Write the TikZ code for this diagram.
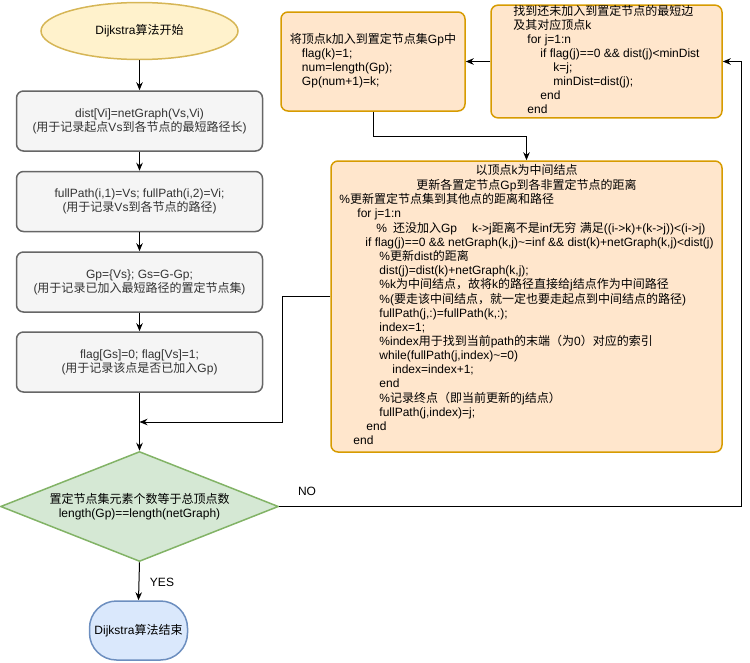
\documentclass[tikz,border=0pt]{standalone}
\usepackage{fontspec}
\setmainfont{Liberation Sans}
\newfontfamily\cjk{Noto Sans CJK SC}
\usetikzlibrary{shapes.geometric,arrows.meta}
\newcommand\zh[1]{{\cjk #1}}
\definecolor{grayfill}{HTML}{F5F5F5}
\definecolor{graydraw}{HTML}{666666}
\definecolor{graytext}{HTML}{333333}
\definecolor{orfill}{HTML}{FFE6CC}
\definecolor{ordraw}{HTML}{D79B00}
\definecolor{yelfill}{HTML}{FFF2CC}
\definecolor{yeldraw}{HTML}{D6B656}
\definecolor{grnfill}{HTML}{D5E8D4}
\definecolor{grndraw}{HTML}{82B366}
\definecolor{blufill}{HTML}{DAE8FC}
\definecolor{bludraw}{HTML}{6C8EBF}
\begin{document}
\begin{tikzpicture}[x=1pt,y=-1pt,
  font=\fontsize{12}{14}\selectfont,
  graybox/.style={rectangle, rounded corners=7pt, draw=graydraw, fill=grayfill, line width=1.5pt,
    minimum width=246pt, minimum height=60pt, text=graytext, align=center, inner sep=0pt},
  obox/.style={rectangle, rounded corners=7pt, draw=ordraw, fill=orfill, line width=1.5pt, inner sep=0pt},
  arr/.style={draw, line width=1pt, -{Stealth[length=8pt,width=6.5pt]}},
  lbl/.style={inner sep=0pt}]
\useasboundingbox (0,0) rectangle (750,662);

% left column
\node[ellipse, draw=yeldraw, fill=yelfill, line width=1.5pt, minimum width=197pt, minimum height=57pt, inner sep=0pt]
  (start) at (139.5,31) {Dijkstra\zh{算法开始}};
\node[graybox] (b1) at (139.5,121) {dist[Vi]=netGraph(Vs,Vi)\\(\zh{用于记录起点}Vs\zh{到各节点的最短路径长})};
\node[graybox] (b2) at (139.5,201.5) {fullPath(i,1)=Vs; fullPath(i,2)=Vi;\\(\zh{用于记录}Vs\zh{到各节点的路径})};
\node[graybox] (b3) at (139.5,282) {Gp=\{Vs\}; Gs=G-Gp;\\(\zh{用于记录已加入最短路径的置定节点集})};
\node[graybox] (b4) at (139.5,362) {flag[Gs]=0; flag[Vs]=1;\\(\zh{用于记录该点是否已加入}Gp)};
\node[diamond, draw=grndraw, fill=grnfill, line width=1.5pt, minimum width=278pt, minimum height=110pt,
  aspect=2.5, inner sep=0pt, align=center] (dia) at (139.5,506.5)
  {\zh{置定节点集元素个数等于总顶点数}\\length(Gp)==length(netGraph)};
\node[rectangle, rounded corners=27pt, draw=bludraw, fill=blufill, line width=1.5pt,
  minimum width=98pt, minimum height=59pt, inner sep=0pt] (fin) at (138.5,630.5) {Dijkstra\zh{算法结束}};

% right part
\node[obox, minimum width=184pt, minimum height=99pt] (tl) at (373,61.5)
 {\begin{tabular}{@{}l@{}}
 \zh{将顶点}k\zh{加入到置定节点集}Gp\zh{中}\\
 \hspace*{12pt}flag(k)=1;\\
 \hspace*{12pt}num=length(Gp);\\
 \hspace*{12pt}Gp(num+1)=k;
 \end{tabular}};
\node[obox, minimum width=231pt, minimum height=111pt] (tr) at (606.5,61.5)
 {\begin{tabular}{@{}l@{}}
 \zh{找到还未加入到置定节点的最短边}\\
 \zh{及其对应顶点}k\\
 \hspace*{14pt}for j=1:n\\
 \hspace*{27pt}if flag(j)==0 \&\& dist(j)<minDist\\
 \hspace*{40pt}k=j;\\
 \hspace*{40pt}minDist=dist(j);\\
 \hspace*{27pt}end\\
 \hspace*{14pt}end
 \end{tabular}};
\node[obox, minimum width=391pt, minimum height=291pt] (big) at (526.5,306.5)
 {\begin{tabular}{@{}l@{}}
 \multicolumn{1}{@{}c@{}}{\zh{以顶点}k\zh{为中间结点}}\\
 \multicolumn{1}{@{}c@{}}{\zh{更新各置定节点}Gp\zh{到各非置定节点的距离}}\\
 \%\zh{更新置定节点集到其他点的距离和路径}\\
 \hspace*{18pt}for j=1:n\\
 \hspace*{37pt}\%\hspace*{6pt}\zh{还没加入}Gp\hspace*{15pt}k->j\zh{距离不是}inf\zh{无穷} \zh{满足}((i->k)+(k->j))<(i->j)\\
 \hspace*{26pt}if flag(j)==0 \&\& netGraph(k,j)\textasciitilde=inf \&\& dist(k)+netGraph(k,j)<dist(j)\\
 \hspace*{40pt}\%\zh{更新}dist\zh{的距离}\\
 \hspace*{40pt}dist(j)=dist(k)+netGraph(k,j);\\
 \hspace*{40pt}\%k\zh{为中间结点，故将}k\zh{的路径直接给}j\zh{结点作为中间路径}\\
 \hspace*{40pt}\%(\zh{要走该中间结点，就一定也要走起点到中间结点的路径})\\
 \hspace*{40pt}fullPath(j,:)=fullPath(k,:);\\
 \hspace*{40pt}index=1;\\
 \hspace*{40pt}\%index\zh{用于找到当前}path\zh{的末端（为}0\zh{）对应的索引}\\
 \hspace*{40pt}while(fullPath(j,index)\textasciitilde=0)\\
 \hspace*{53pt}index=index+1;\\
 \hspace*{40pt}end\\
 \hspace*{40pt}\%\zh{记录终点（即当前更新的}j\zh{结点）}\\
 \hspace*{40pt}fullPath(j,index)=j;\\
 \hspace*{27pt}end\\
 \hspace*{14pt}end
 \end{tabular}};

% connectors
\coordinate (join) at (139.5,422);
\draw[arr] (start) -- (b1);
\draw[arr] (b1) -- (b2);
\draw[arr] (b2) -- (b3);
\draw[arr] (b3) -- (b4);
\draw[arr] (b4) -- (dia);
\draw[arr] ([yshift=10.5pt]big.west) -| (282,422) -- (join);
\draw[arr] (dia.east) -- ++(462,0) |- (tr.east);
\draw[arr] (tr.west) -- (tl.east);
\draw[arr] (tl.south) -- ++(0,25) -| (big.north);
\draw[arr] (dia.south) -- (fin.north);

\node[lbl] (no) at (307,491) {NO};
\node[lbl] (yes) at (162,582) {YES};
\end{tikzpicture}
\end{document}
